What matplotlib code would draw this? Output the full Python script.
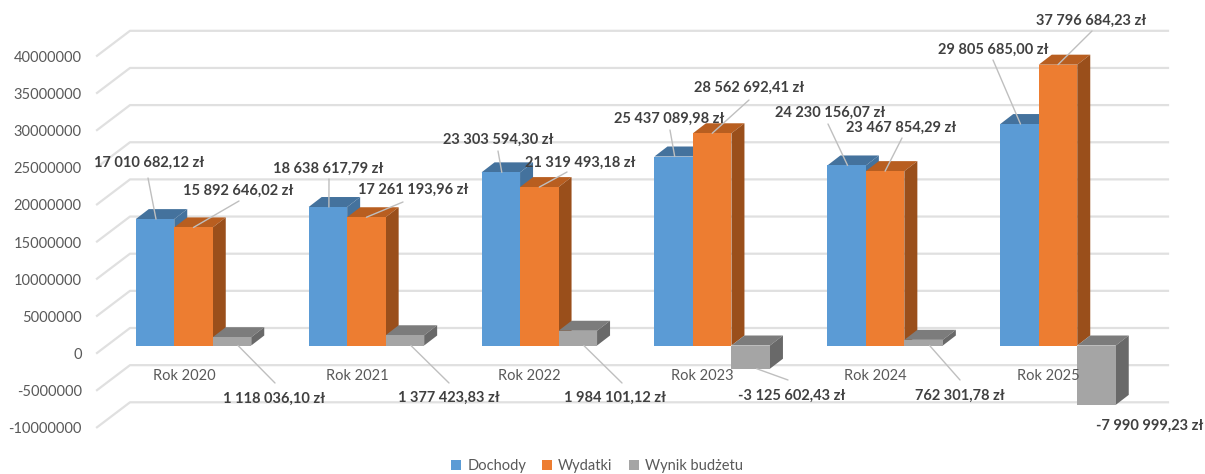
import matplotlib.pyplot as plt
from matplotlib.patches import Polygon
from matplotlib.transforms import ScaledTranslation

plt.rcParams['font.family'] = ['Lato', 'DejaVu Sans']

# values
years = ['Rok 2020', 'Rok 2021', 'Rok 2022', 'Rok 2023', 'Rok 2024', 'Rok 2025']
dochody = [17010682.12, 18638617.79, 23303594.30, 25437089.98, 24230156.07, 29805685.00]
wydatki = [15892646.02, 17261193.96, 21319493.18, 28562692.41, 23467854.29, 37796684.23]
wynik = [1118036.10, 1377423.83, 1984101.12, -3125602.43, 762301.78, -7990999.23]
dochody_txt = ['17 010 682,12 zł', '18 638 617,79 zł', '23 303 594,30 zł', '25 437 089,98 zł', '24 230 156,07 zł', '29 805 685,00 zł']
wydatki_txt = ['15 892 646,02 zł', '17 261 193,96 zł', '21 319 493,18 zł', '28 562 692,41 zł', '23 467 854,29 zł', '37 796 684,23 zł']
wynik_txt = ['1 118 036,10 zł', '1 377 423,83 zł', '1 984 101,12 zł', '-3 125 602,43 zł', '762 301,78 zł', '-7 990 999,23 zł']
yticks = [-10000000, -5000000, 0, 5000000, 10000000, 15000000, 20000000, 25000000, 30000000, 35000000, 40000000]

# label centres and leader starts, in image pixels (y down)
dochody_pos = [(149, 161), (328, 167), (498, 138), (669, 117), (830, 111), (993, 48)]
wydatki_pos = [(238, 189), (413, 188), (580, 161), (749, 86), (901, 126), (1091, 19)]
wynik_pos = [(274, 397), (449, 396), (615, 396), (792, 394), (960, 394), (1150, 424)]
dochody_lead = [(148, 178), (329, 179), (498, 151), (670, 130), (828, 124), (993, 60)]
wydatki_lead = [(239, 201), (403, 202), (567, 172), (749, 100), (902, 138), (1092, 31)]
wynik_lead = [(275, 383), (449, 383), (622, 383), (788, 380), (960, 380), None]

W, H = 1205, 474
LEFT = 97
ZERO_Y = 345.5      # pixel row of the bars' base
PX_Y = 7.43e-6      # pixels per zloty
PX_X = 172.9        # pixels per category
X0 = 193.5          # pixel column of the first category centre

bar_w = 38.5 / PX_X
dep_x = 13 / PX_X
dep_y = 10 / PX_Y
front_off = -7.5 / PX_Y
back_off = 17.5 / PX_Y

fig = plt.figure(figsize=(W / 100, H / 100), dpi=100)
ax = fig.add_axes([LEFT / W, 0, 1 - LEFT / W, 1])
ax.set_xlim((LEFT - X0) / PX_X, (W - X0) / PX_X)
ax.set_ylim((ZERO_Y - H) / PX_Y, ZERO_Y / PX_Y)
ax.patch.set_visible(False)
for s in ax.spines.values():
    s.set_visible(False)
ax.set_xticks([])
ax.set_yticks(yticks)
ax.set_yticklabels([str(v) for v in yticks])
ax.tick_params(axis='y', length=0, pad=11, labelsize=10.5, labelcolor='#595959')
shift = ScaledTranslation(0, -8 / 100, fig.dpi_scale_trans)
for lab in ax.get_yticklabels():
    lab.set_transform(lab.get_transform() + shift)

# floor/wall gridlines: front stub going back, then along the wall
grid_x = [(LEFT - X0) / PX_X, (130 - X0) / PX_X, (1168 - X0) / PX_X]
for v in yticks:
    ax.plot(grid_x, [v + front_off, v + back_off, v + back_off], color='#e0e0e0', lw=1.6, zorder=1, clip_on=False)

def bar3d(x, v, front, top, side, z, label):
    # fake 3d: depth faces built from the value, then the front face
    l, r = x - bar_w / 2, x + bar_w / 2
    hi = max(v, 0)
    lo = min(v, 0)
    ax.add_patch(Polygon([(l, hi), (r, hi), (r + dep_x, hi + dep_y), (l + dep_x, hi + dep_y)], color=top, lw=0, zorder=z))
    ax.add_patch(Polygon([(r, lo), (r, hi), (r + dep_x, hi + dep_y), (r + dep_x, lo + dep_y)], color=side, lw=0, zorder=z))
    return ax.bar(x, v, bar_w, color=front, zorder=z + 0.1, label=label)

handles = []
for i in range(len(years)):
    h1 = bar3d(i - bar_w, dochody[i], '#5b9bd5', '#44729d', '#44729d', 2, 'Dochody')
    h2 = bar3d(i, wydatki[i], '#ed7d31', '#b85e20', '#9a4f1b', 3, 'Wydatki')
    h3 = bar3d(i + bar_w, wynik[i], '#a5a5a5', '#7c7c7c', '#696969', 4, 'Wynik budżetu')
    if i == 0:
        handles = [h1, h2, h3]
    ax.text(i - 9.5 / PX_X, -30 / PX_Y, years[i], ha='center', va='center', fontsize=10.5, color='#595959', zorder=5)

def labels(vals, off, txt, pos, lead, end_dx, use_bottom=False):
    for i, v in enumerate(vals):
        x = i + off * bar_w + end_dx / PX_X
        end_y = min(v, 0) if use_bottom else v
        if lead[i] is not None:
            ax.annotate('', xy=(x, end_y), xycoords='data',
                        xytext=(lead[i][0], H - lead[i][1]), textcoords='figure pixels',
                        arrowprops=dict(arrowstyle='-', color='#bfbfbf', lw=1, shrinkA=0, shrinkB=0),
                        zorder=6, annotation_clip=False)
        fig.text(pos[i][0] / W, 1 - (pos[i][1] + 1.5) / H, txt[i], ha='center', va='center',
                 fontsize=10.5, fontweight='bold', color='#404040', zorder=7)

labels(dochody, -1, dochody_txt, dochody_pos, dochody_lead, 1)
labels(wydatki, 0, wydatki_txt, wydatki_pos, wydatki_lead, 0)
labels(wynik, 1, wynik_txt, wynik_pos, wynik_lead, 6, use_bottom=True)

fig.legend(handles=handles, loc='center', bbox_to_anchor=(597 / W, 1 - 466 / H), ncol=3, frameon=False,
           fontsize=10.5, labelcolor='#595959', handlelength=0.7, handleheight=0.7, handletextpad=0.4,
           columnspacing=1.1, borderpad=0)

fig.savefig('out.png', dpi=100)
